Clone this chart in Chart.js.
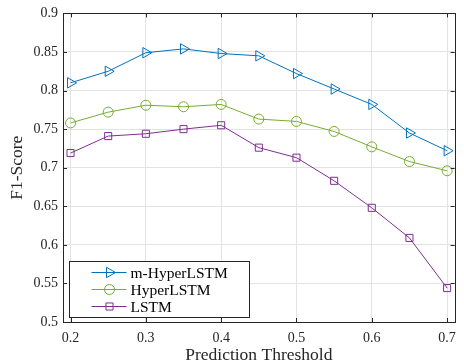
<!DOCTYPE html>
<html>
<head>
<meta charset="utf-8">
<script src="https://cdn.jsdelivr.net/npm/chart.js@4/dist/chart.umd.min.js"></script>
<style>
  html, body { margin: 0; padding: 0; background: #fff; }
  #wrap { width: 464px; height: 364px; }
</style>
</head>
<body>
<div id="wrap"><canvas id="myChart" width="464" height="364"></canvas></div>
<script>
var thresholds = [0.2, 0.25, 0.3, 0.35, 0.4, 0.45, 0.5, 0.55, 0.6, 0.65, 0.7];
var mHyperLSTM = [0.810, 0.825, 0.849, 0.854, 0.848, 0.845, 0.822, 0.802, 0.782, 0.745, 0.722];
var hyperLSTM  = [0.758, 0.772, 0.781, 0.779, 0.782, 0.763, 0.760, 0.747, 0.727, 0.708, 0.696];
var lstm       = [0.719, 0.741, 0.744, 0.750, 0.755, 0.726, 0.713, 0.683, 0.648, 0.609, 0.544];
var xTicks = [0.2, 0.3, 0.4, 0.5, 0.6, 0.7];
var yTicks = [0.5, 0.55, 0.6, 0.65, 0.7, 0.75, 0.8, 0.85, 0.9];

var serif = "'Liberation Serif', 'DejaVu Serif', serif";
var axisColor = "#262626";

function pts(ys) {
    return thresholds.map(function(x, i) { return {x: x, y: ys[i]}; });
}

// box, inward ticks on all four sides, legend inside the axes
var matlabAxes = {
    id: "matlabAxes",
    afterDraw: function(chart) {
        var ctx = chart.ctx, a = chart.chartArea;
        var xs = chart.scales.x, ys = chart.scales.y;
        ctx.save();
        ctx.strokeStyle = axisColor;
        ctx.lineWidth = 1;
        ctx.beginPath();
        xTicks.forEach(function(v) {
            var px = Math.round(xs.getPixelForValue(v)) + 0.5;
            ctx.moveTo(px, a.bottom); ctx.lineTo(px, a.bottom - 4);
            ctx.moveTo(px, a.top); ctx.lineTo(px, a.top + 4);
        });
        yTicks.forEach(function(v) {
            var py = Math.round(ys.getPixelForValue(v)) + 0.5;
            ctx.moveTo(a.left, py); ctx.lineTo(a.left + 4, py);
            ctx.moveTo(a.right, py); ctx.lineTo(a.right - 4, py);
        });
        ctx.stroke();
        ctx.strokeRect(Math.round(a.left) + 0.5, Math.round(a.top) + 0.5,
                       Math.round(a.right - a.left), Math.round(a.bottom - a.top));

        // legend
        var lx = 69.5, ly = 261.5, lw = 180, lh = 56;
        ctx.fillStyle = "#fff";
        ctx.fillRect(lx, ly, lw, lh);
        ctx.strokeStyle = axisColor;
        ctx.strokeRect(lx, ly, lw, lh);
        ctx.font = "15.5px " + serif;
        ctx.textBaseline = "middle";
        chart.data.datasets.forEach(function(ds, i) {
            var cy = ly + 11 + i * 17;
            ctx.strokeStyle = ds.borderColor;
            ctx.fillStyle = "rgba(0,0,0,0)";
            ctx.lineWidth = 1;
            ctx.beginPath();
            ctx.moveTo(lx + 22, cy); ctx.lineTo(lx + 57, cy);
            ctx.stroke();
            Chart.helpers.drawPoint(ctx, {
                pointStyle: ds.pointStyle, radius: ds.pointRadius,
                rotation: ds.pointRotation || 0, borderWidth: 1
            }, lx + 40, cy);
            ctx.fillStyle = "#000";
            ctx.fillText(ds.label, lx + 61, cy + 1);
        });
        ctx.restore();
    }
};

var ctx = document.getElementById("myChart").getContext("2d");
var chart = new Chart(ctx, {
    type: "line",
    data: {
        datasets: [{
            label: "m-HyperLSTM",
            data: pts(mHyperLSTM),
            borderColor: "#0072BD",
            pointStyle: "triangle",
            pointRotation: 90,
            pointRadius: 6
        }, {
            label: "HyperLSTM",
            data: pts(hyperLSTM),
            borderColor: "#77AC30",
            pointStyle: "circle",
            pointRadius: 5
        }, {
            label: "LSTM",
            data: pts(lstm),
            borderColor: "#7E2F8E",
            pointStyle: "rect",
            pointRadius: 5
        }]
    },
    options: {
        responsive: false,
        animation: false,
        layout: {padding: {top: 13, right: 6, left: 0, bottom: 0}},
        elements: {
            line: {borderWidth: 1, tension: 0},
            point: {borderWidth: 1, backgroundColor: "rgba(0,0,0,0)", hoverRadius: 5}
        },
        plugins: {legend: {display: false}, tooltip: {enabled: false}},
        scales: {
            x: {
                type: "linear",
                min: 0.19, max: 0.71,
                afterBuildTicks: function(s) { s.ticks = xTicks.map(function(v) { return {value: v}; }); },
                afterFit: function(s) { s.height = 42; },
                grid: {color: "#e3e3e3", drawTicks: false},
                border: {display: false},
                ticks: {
                    color: axisColor, padding: 8, maxRotation: 0,
                    font: {family: serif, size: 14},
                    callback: function(v) { return String(parseFloat(v.toFixed(2))); }
                },
                title: {display: true, text: "Prediction Threshold", color: axisColor,
                        font: {family: serif, size: 17.5}, padding: {top: 0, bottom: -2}}
            },
            y: {
                min: 0.5, max: 0.9,
                afterBuildTicks: function(s) { s.ticks = yTicks.map(function(v) { return {value: v}; }); },
                afterFit: function(s) { s.width = 63; },
                grid: {color: "#e3e3e3", drawTicks: false},
                border: {display: false},
                ticks: {
                    color: axisColor, padding: 5,
                    font: {family: serif, size: 14},
                    callback: function(v) { return String(parseFloat(v.toFixed(2))); }
                },
                title: {display: true, text: "F1-Score", color: axisColor,
                        font: {family: serif, size: 17.5}, padding: {top: 7, bottom: 4}}
            }
        }
    },
    plugins: [matlabAxes]
});
</script>
</body>
</html>
